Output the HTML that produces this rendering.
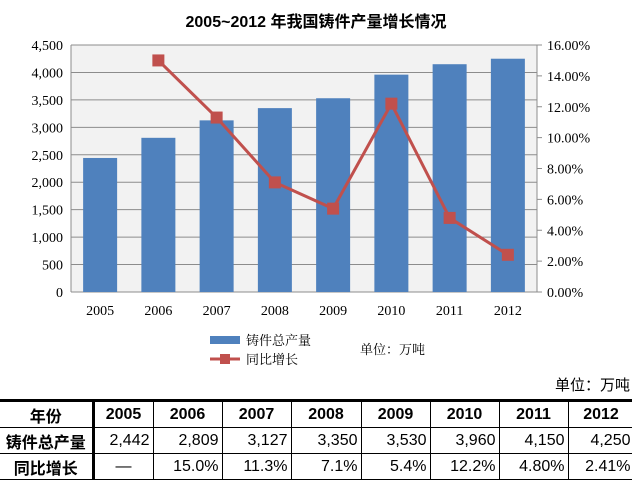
<!DOCTYPE html>
<html><head><meta charset="utf-8"><style>
body{margin:0;width:632px;height:480px;background:#fff;overflow:hidden;font-family:"Liberation Sans","Noto Sans CJK SC",sans-serif;position:relative}
table{position:absolute;left:0;top:399px;border-collapse:collapse;width:634px;table-layout:fixed}
td{border:1px solid #000;height:25px;padding:0 3px;text-align:right;font-size:16px;white-space:nowrap;overflow:hidden}
tr:first-child td{font-weight:bold;text-align:center;border-top:3px solid #000}
td:first-child{text-align:center;font-weight:bold;border-right:3px solid #000;border-left:none;padding:0}
</style></head><body>
<svg width="632" height="400" style="position:absolute;left:0;top:0">
<text x="316" y="27" text-anchor="middle" font-size="16" font-weight="bold" font-family="Liberation Sans,Noto Sans CJK SC,sans-serif">2005~2012 年我国铸件产量增长情况</text>
<rect x="71" y="45" width="466" height="247" fill="#f2f2f2"/>
<g id="grid"></g><g id="bars"></g><g id="line"></g><g id="axes"></g>
<rect x="210" y="336" width="30" height="8" fill="#4f81bd"/>
<text x="246" y="345" font-size="13" font-family="Liberation Serif,Noto Serif CJK SC,serif">铸件总产量</text>
<line x1="210" y1="359" x2="240" y2="359" stroke="#c0504d" stroke-width="3"/>
<rect x="220" y="354" width="10" height="10" fill="#c0504d"/>
<text x="246" y="364" font-size="13" font-family="Liberation Serif,Noto Serif CJK SC,serif">同比增长</text>
<text x="360" y="354" font-size="13" font-family="Liberation Serif,Noto Serif CJK SC,serif">单位：万吨</text>
<text x="630" y="390" text-anchor="end" font-size="15" font-family="Liberation Sans,Noto Sans CJK SC,sans-serif">单位：万吨</text>
</svg>
<table>
<colgroup><col style="width:93px"><col style="width:60px"><col style="width:69px"><col style="width:69px"><col style="width:70px"><col style="width:69px"><col style="width:69px"><col style="width:69px"><col style="width:66px"></colgroup>
<tr><td>年份</td><td>2005</td><td>2006</td><td>2007</td><td>2008</td><td>2009</td><td>2010</td><td>2011</td><td>2012</td></tr>
<tr><td>铸件总产量</td><td>2,442</td><td>2,809</td><td>3,127</td><td>3,350</td><td>3,530</td><td>3,960</td><td>4,150</td><td>4,250</td></tr>
<tr><td>同比增长</td><td style="text-align:center">—</td><td>15.0%</td><td>11.3%</td><td>7.1%</td><td>5.4%</td><td>12.2%</td><td>4.80%</td><td>2.41%</td></tr>
</table>
<script>
const years=["2005","2006","2007","2008","2009","2010","2011","2012"];
const production=[2442,2809,3127,3350,3530,3960,4150,4250];
const growth=[null,15.0,11.3,7.1,5.4,12.2,4.8,2.41];
const leftTicks=[0,500,1000,1500,2000,2500,3000,3500,4000,4500];
const rightTicks=[0,2,4,6,8,10,12,14,16];
const NS="http://www.w3.org/2000/svg";
const L=71,R=537,T=45,B=292;
const yL=v=>B-(v/4500)*(B-T);
const yR=v=>B-(v/16)*(B-T);
const bw=(R-L)/years.length;
const xC=i=>L+bw*(i+0.5);
function mk(tag,attrs,parent){const e=document.createElementNS(NS,tag);for(const k in attrs)e.setAttribute(k,attrs[k]);document.querySelector(parent).appendChild(e);return e;}
const serif="Liberation Serif,serif";
leftTicks.forEach(v=>{
 const g=mk("line",{x1:L,x2:R,y1:yL(v),y2:yL(v),stroke:"#8c8c8c","stroke-width":1},"#grid");
 
 
 const t=mk("text",{x:L-8,y:yL(v)+5,"text-anchor":"end","font-size":14,"font-family":serif},"#axes");
 t.textContent=v.toLocaleString("en-US");
 
 
});
rightTicks.forEach(v=>{
 mk("line",{x1:R,x2:R+5,y1:yR(v),y2:yR(v),stroke:"#8c8c8c"},"#axes");
 const t=mk("text",{x:R+10,y:yR(v)+5,"font-size":14,"font-family":serif},"#axes");
 t.textContent=v.toFixed(2)+"%";
 
 
});
mk("line",{x1:L,x2:L,y1:T,y2:B,stroke:"#8c8c8c"},"#axes");
mk("line",{x1:R,x2:R,y1:T,y2:B,stroke:"#8c8c8c"},"#axes");
years.forEach((y,i)=>{
 const b=mk("rect",{x:xC(i)-17,y:yL(production[i]),width:34,height:B-yL(production[i]),fill:"#4f81bd"},"#bars");
 
 
 const t=mk("text",{x:xC(i),y:B+23,"text-anchor":"middle","font-size":14,"font-family":serif},"#axes");
 t.textContent=y;
 
 
});
let pts=[];growth.forEach((g,i)=>{if(g!==null)pts.push(xC(i)+","+yR(g));});
const pl=mk("polyline",{points:pts.join(" "),fill:"none",stroke:"#c0504d","stroke-width":3},"#line");


growth.forEach((g,i)=>{if(g===null)return;
 const m=mk("rect",{x:xC(i)-6,y:yR(g)-6,width:12,height:12,fill:"#c0504d"},"#line");
 
 
});
</script>
</body></html>
